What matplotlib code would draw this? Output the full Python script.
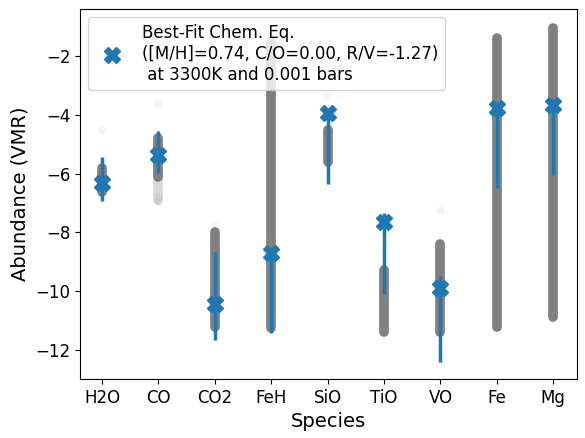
import numpy as np
import matplotlib
matplotlib.use("Agg")
import matplotlib.pyplot as plt

# ---- data ----
species = ["H2O", "CO", "CO2", "FeH", "SiO", "TiO", "VO", "Fe", "Mg"]

# dense part of the posterior samples (low, high) in log10 VMR
sample_lo = [-6.63, -6.13, -11.22, -11.25, -5.61, -11.38, -11.39, -11.22, -10.88]
sample_hi = [-5.81, -4.79, -7.98, -1.53, -4.53, -9.28, -8.38, -1.39, -1.05]

# sparse tails / lone samples (species index, value)
tail_idx = [1, 1, 3]
tail_lo = [-6.9, -6.13, -11.25]
tail_hi = [-6.13, -6.13, -11.25]
outlier_idx = [0, 1, 1, 1, 4, 6, 2]
outlier_val = [-4.52, -3.63, -6.97, -6.8, -3.33, -7.27, -7.78]

# best fit chemical equilibrium values and their ranges
best_fit = [-6.32, -5.37, -10.44, -8.71, -3.94, -7.64, -9.90, -3.78, -3.67]
err_lo = [-6.93, -5.98, -11.66, -11.42, -6.35, -10.10, -12.40, -6.50, -6.05]
err_hi = [-5.44, -4.55, -8.67, -8.60, -3.84, -7.35, -9.48, -3.70, -3.60]

label = ("Best-Fit Chem. Eq.\n([M/H]=0.74, C/O=0.00, R/V=-1.27)\n"
         " at 3300K and 0.001 bars")

# ---- figure ----
fig = plt.figure(figsize=(5.85, 4.38), dpi=100)
ax = fig.add_axes([80 / 585, 1 - 379 / 438, 497 / 585, 370 / 438])

x = np.arange(len(species))

# posterior samples as thick gray columns
for i in range(len(species)):
    ax.plot([x[i], x[i]], [sample_lo[i], sample_hi[i]], color="gray",
            lw=7, solid_capstyle="round", zorder=1)
for i, lo, hi in zip(tail_idx, tail_lo, tail_hi):
    ax.plot([x[i], x[i]], [lo, hi], color="gray", alpha=0.3,
            lw=7, solid_capstyle="round", zorder=1)
ax.scatter(x[outlier_idx], outlier_val, s=40, color="gray", alpha=0.08,
           edgecolors="none", zorder=1)

# best-fit ranges and markers
ax.vlines(x, err_lo, err_hi, color="tab:blue", lw=2.5, zorder=2)
ax.plot(x, best_fit, ls="none", marker="X", ms=12, color="tab:blue",
        label=label, zorder=3)

ax.set_xticks(x)
ax.set_xticklabels(species)
ax.tick_params(labelsize=12)
ax.set_xlim(-0.39, 8.42)
ax.set_ylim(-12.99, -0.40)
ax.set_yticks([-12, -10, -8, -6, -4, -2])
ax.set_xlabel("Species", fontsize=14)
ax.set_ylabel("Abundance (VMR)", fontsize=14)
ax.legend(loc="upper left", fontsize=12)

fig.savefig("out.png", dpi=100)
